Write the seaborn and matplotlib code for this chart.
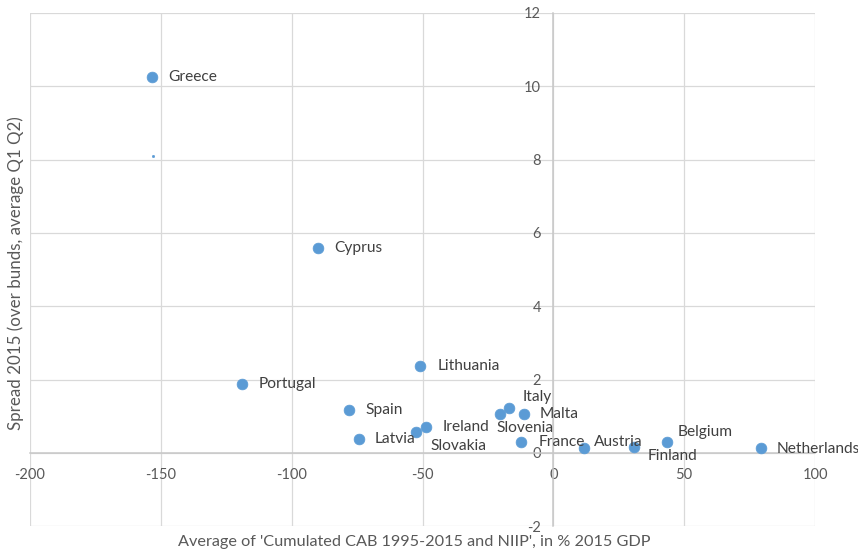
import matplotlib
matplotlib.use("Agg")
import matplotlib.pyplot as plt
import seaborn as sns
import pandas as pd

# ---- data ----
countries = ["Greece", "Cyprus", "Lithuania", "Portugal", "Spain", "Italy", "Malta",
             "Slovenia", "Ireland", "Slovakia", "Latvia", "France", "Austria",
             "Finland", "Belgium", "Netherlands"]
cab_niip = [-153.2, -89.9, -50.8, -119.1, -77.9, -16.8, -11.2, -20.5, -48.5, -52.6,
            -74.4, -12.3, 11.7, 30.9, 43.6, 79.5]
spread = [10.26, 5.59, 2.37, 1.88, 1.17, 1.24, 1.06, 1.05, 0.70, 0.58, 0.38, 0.30,
          0.13, 0.15, 0.29, 0.13]
# stray small marker visible under Greece
extra_x = [-153.1]
extra_y = [8.11]

x_ticks = [-200, -150, -100, -50, 0, 50, 100]
y_ticks = [-2, 0, 2, 4, 6, 8, 10, 12]
x_title = "Average of 'Cumulated CAB 1995-2015 and NIIP', in % 2015 GDP"
y_title = "Spread 2015 (over bunds, average Q1 Q2)"

# label offsets in pixels (dx, dy), dy positive = up
label_offsets = {
    "Greece": (16, 0), "Cyprus": (16, 0), "Lithuania": (17, 0), "Portugal": (17, 0),
    "Spain": (16, 0), "Italy": (13, 11), "Malta": (16, 0), "Slovenia": (-3, -14),
    "Ireland": (16, 0), "Slovakia": (15, -14), "Latvia": (16, 0), "France": (17, 0),
    "Austria": (10, 6.5), "Finland": (13, -8.5), "Belgium": (10, 10),
    "Netherlands": (15, -1),
}

df = pd.DataFrame({"country": countries, "x": cab_niip, "y": spread})

sns.set_theme(style="white")
plt.rcParams["font.family"] = ["Lato", "DejaVu Sans"]

W, H = 858, 552
fig = plt.figure(figsize=(W / 100, H / 100), dpi=100)
left, right, top, bottom = 30, 815, 13, 526.3
ax = fig.add_axes([left / W, 1 - bottom / H, (right - left) / W, (bottom - top) / H])

blue = "#5B9BD5"
sns.scatterplot(data=df, x="x", y="y", ax=ax, s=60, color=blue, edgecolor=blue,
                linewidth=0.5, legend=False, zorder=3)
sns.scatterplot(x=extra_x, y=extra_y, ax=ax, s=4, color=blue, edgecolor=blue,
                legend=False, zorder=3)

for c, xv, yv in zip(countries, cab_niip, spread):
    dx, dy = label_offsets[c]
    ax.annotate(c, (xv, yv), xytext=(dx, dy), textcoords="offset pixels",
                ha="left", va="center", fontsize=11.2, color="#404040", zorder=4)

ax.set_xlim(x_ticks[0], x_ticks[-1])
ax.set_ylim(y_ticks[0], y_ticks[-1])
ax.set_xticks(x_ticks)
ax.set_yticks(y_ticks)
ax.set_xticklabels([str(t) for t in x_ticks])
ax.set_yticklabels([str(t) for t in y_ticks])
ax.grid(True, color="#d9d9d9", linewidth=0.9)
ax.set_axisbelow(True)

for s in ["top", "right"]:
    ax.spines[s].set_visible(False)
ax.spines["left"].set_position(("data", 0))
ax.spines["bottom"].set_position(("data", 0))
for s in ["left", "bottom"]:
    ax.spines[s].set_color("#c8c8c8")
    ax.spines[s].set_linewidth(1.1)
    ax.spines[s].set_zorder(1)

ax.tick_params(axis="both", length=0, labelsize=10.5, labelcolor="#595959")
ax.tick_params(axis="x", pad=11)
ax.tick_params(axis="y", pad=9)
ax.set_xlabel("")
ax.set_ylabel("")

fig.text(414 / W, 1 - 541.7 / H, x_title, ha="center", va="center",
         fontsize=11.7, color="#595959")
fig.text(16 / W, 1 - 273 / H, y_title, ha="center", va="center", rotation=90,
         fontsize=12.2, color="#595959")

fig.savefig("out.png", dpi=100, facecolor="white")
